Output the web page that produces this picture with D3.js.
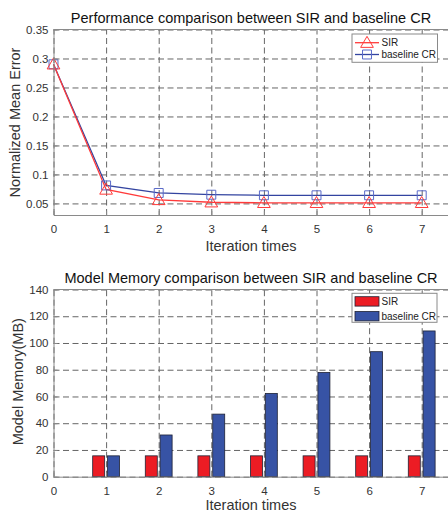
<!DOCTYPE html>
<html>
<head>
<meta charset="utf-8">
<script src="https://cdn.jsdelivr.net/npm/d3@7"></script>
<style>
  body { margin: 0; background: #fff; }
  svg { display: block; font-family: "Liberation Sans", Arial, sans-serif; }
</style>
</head>
<body>
<div id="chart"></div>
<script>
// data
const iterations = [0, 1, 2, 3, 4, 5, 6, 7];
const sirError = [0.29, 0.074, 0.056, 0.052, 0.051, 0.051, 0.051, 0.051];
const baselineError = [0.29, 0.081, 0.068, 0.065, 0.064, 0.064, 0.064, 0.064];

const barIterations = [1, 2, 3, 4, 5, 6, 7];
const sirMemory = [15.6, 15.6, 15.6, 15.6, 15.6, 15.6, 15.6];
const baselineMemory = [15.6, 31.2, 46.8, 62.3, 77.9, 93.5, 109];

const errorTicks = [0.05, 0.1, 0.15, 0.2, 0.25, 0.3, 0.35];
const memoryTicks = [0, 20, 40, 60, 80, 100, 120, 140];
const seriesNames = ["SIR", "baseline CR"];

const W = 448, H = 512;
const RED = "#ff3a3a", BLUE = "#3344a0";
const BAR_RED = "#ec1c24", BAR_BLUE = "#3753a5";

const svg = d3.select("#chart").append("svg")
  .attr("width", W).attr("height", H);
svg.append("rect").attr("width", W).attr("height", H).attr("fill", "#fff");

// shared x scale (figure is cropped on the right)
const x1 = d3.scaleLinear().domain([0, 7.5]).range([53.5, 448]);
const yErr = d3.scaleLinear().domain([0.03, 0.35]).range([215, 29.5]);
const yMem = d3.scaleLinear().domain([0, 140]).range([476.7, 289.5]);

function drawFrame(g, x, y, yTicks) {
  const [x0, xEnd] = x.range();
  const [yBot, yTop] = y.range();

  // dashed grid
  g.append("g")
    .attr("transform", `translate(0,${yBot})`)
    .call(d3.axisBottom(x).tickValues(iterations).tickSize(-(yBot - yTop)).tickFormat(""))
    .call(a => a.select(".domain").remove())
    .selectAll("line").attr("stroke", "#666").attr("stroke-dasharray", "6,3.5").attr("stroke-width", 1);
  g.append("g")
    .attr("transform", `translate(${x0},0)`)
    .call(d3.axisLeft(y).tickValues(yTicks).tickSize(-(xEnd - x0)).tickFormat(""))
    .call(a => a.select(".domain").remove())
    .selectAll("line").attr("stroke", "#666").attr("stroke-dasharray", "6,3.5").attr("stroke-width", 1);

  // top border
  g.append("line").attr("x1", x0).attr("x2", xEnd).attr("y1", yTop).attr("y2", yTop)
    .attr("stroke", "#8a8a8a");
}

function drawAxes(g, x, y, yTicks, fmt) {
  const [yBot] = y.range();
  const [x0] = x.range();
  const xa = g.append("g")
    .attr("transform", `translate(0,${yBot})`)
    .call(d3.axisBottom(x).tickValues(iterations).tickSizeInner(-4).tickSizeOuter(0).tickPadding(10));
  const ya = g.append("g")
    .attr("transform", `translate(${x0},0)`)
    .call(d3.axisLeft(y).tickValues(yTicks).tickFormat(fmt).tickSizeInner(-4).tickSizeOuter(0).tickPadding(5));
  [xa, ya].forEach(a => {
    a.select(".domain").attr("stroke", "#8a8a8a");
    a.selectAll(".tick line").attr("stroke", "#8a8a8a");
    a.selectAll(".tick text").attr("fill", "#333").style("font-size", "11.5px");
  });
}

function titles(title, titleY, xLabelY, yLabel, yLabelX, yLabelY) {
  svg.append("text").attr("x", 251).attr("y", titleY).attr("text-anchor", "middle")
    .style("font-size", "14.5px").attr("fill", "#111").text(title);
  svg.append("text").attr("x", 251).attr("y", xLabelY).attr("text-anchor", "middle")
    .style("font-size", "14.5px").attr("fill", "#333").text("Iteration times");
  svg.append("text").attr("transform", `translate(${yLabelX},${yLabelY}) rotate(-90)`)
    .attr("text-anchor", "middle").style("font-size", "14.5px").attr("fill", "#333").text(yLabel);
}

// ---------- top: error lines ----------
const errG = svg.append("g");
drawFrame(errG, x1, yErr, errorTicks);

const lineGen = vals => d3.line().x((d, i) => x1(iterations[i])).y(d => yErr(d))(vals);
const triangle = d3.symbol().type(d3.symbolTriangle).size(70);
const square = d3.symbol().type(d3.symbolSquare).size(80);

errG.append("path").attr("d", lineGen(baselineError)).attr("fill", "none")
  .attr("stroke", BLUE).attr("stroke-width", 1.3);
errG.append("path").attr("d", lineGen(sirError)).attr("fill", "none")
  .attr("stroke", RED).attr("stroke-width", 1.3);

errG.selectAll(".sq").data(baselineError).join("path")
  .attr("transform", (d, i) => `translate(${x1(iterations[i])},${yErr(d)})`)
  .attr("d", square).attr("fill", "none").attr("stroke", "#5a6ac8").attr("stroke-width", 1);
errG.selectAll(".tri").data(sirError).join("path")
  .attr("transform", (d, i) => `translate(${x1(iterations[i])},${yErr(d) + 1})`)
  .attr("d", triangle).attr("fill", "none").attr("stroke", RED).attr("stroke-width", 1);

drawAxes(errG, x1, yErr, errorTicks, d => String(+d.toFixed(2)));
titles("Performance comparison between SIR and baseline CR", 22.7, 250.5,
  "Normalized Mean Error", 20, 122.5);

// legend (top)
const lg1 = errG.append("g");
lg1.append("rect").attr("x", 352).attr("y", 34).attr("width", 85.5).attr("height", 28.3)
  .attr("fill", "#fff").attr("stroke", "#8a8a8a");
[[RED, triangle, 42.7], [BLUE, square, 54.5]].forEach(([c, sym, ly], i) => {
  lg1.append("line").attr("x1", 355).attr("x2", 379).attr("y1", ly).attr("y2", ly)
    .attr("stroke", c).attr("stroke-width", 1.3);
  lg1.append("path").attr("transform", `translate(367,${ly + (i === 0 ? 1 : 0)})`)
    .attr("d", sym).attr("fill", "none").attr("stroke", i === 0 ? RED : "#5a6ac8");
  lg1.append("text").attr("x", 381.5).attr("y", ly + 3.6).style("font-size", "10px")
    .attr("fill", "#222").text(seriesNames[i]);
});

// ---------- bottom: memory bars ----------
const memG = svg.append("g");
drawFrame(memG, x1, yMem, memoryTicks);

const barW = 0.228, off = 0.141;
const barSeries = [[sirMemory, -off, BAR_RED], [baselineMemory, off, BAR_BLUE]];
barSeries.forEach(([vals, o, c]) => {
  memG.append("g").selectAll("rect").data(vals).join("rect")
    .attr("x", (d, i) => x1(barIterations[i] + o - barW / 2))
    .attr("width", x1(barW) - x1(0))
    .attr("y", d => yMem(d))
    .attr("height", d => yMem(0) - yMem(d))
    .attr("fill", c).attr("stroke", "#1e2235").attr("stroke-width", 0.8);
});

drawAxes(memG, x1, yMem, memoryTicks, d3.format("d"));
titles("Model Memory comparison between SIR and baseline CR", 283.3, 510,
  "Model Memory(MB)", 23, 381.7);

// legend (bottom)
const lg2 = memG.append("g");
lg2.append("rect").attr("x", 352).attr("y", 293.3).attr("width", 85).attr("height", 29)
  .attr("fill", "#fff").attr("stroke", "#8a8a8a");
[[BAR_RED, 296.7], [BAR_BLUE, 311.5]].forEach(([c, sy], i) => {
  lg2.append("rect").attr("x", 355).attr("y", sy).attr("width", 24).attr("height", 9.4)
    .attr("fill", c).attr("stroke", "#1e2235").attr("stroke-width", 0.8);
  lg2.append("text").attr("x", 381.5).attr("y", sy + 8.3).style("font-size", "10px")
    .attr("fill", "#222").text(seriesNames[i]);
});
</script>
</body>
</html>
